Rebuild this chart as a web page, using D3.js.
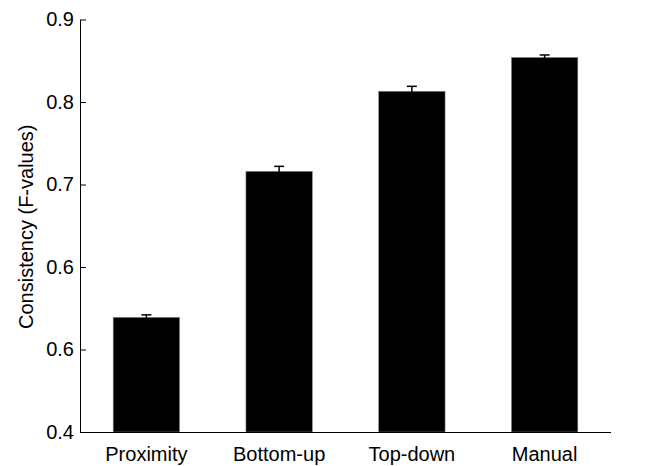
<!DOCTYPE html>
<head>
    <meta charset="utf-8">
    <style>
        body { margin: 0; background: #fff; }
        text { font-family: "Liberation Sans", Arial, sans-serif; fill: #000; }
        .axis path, .axis line { stroke: #000; stroke-width: 1; }
    </style>
</head>
<body>
    <div id="chart"></div>
    <script src="https://d3js.org/d3.v7.min.js"></script>
    <script>
        // values
        var categories = ["Proximity", "Bottom-up", "Top-down", "Manual"];
        var values = [0.539, 0.716, 0.813, 0.854];
        var errors = [0.003, 0.006, 0.006, 0.003];
        var yTicks = [0.4, 0.5, 0.6, 0.7, 0.8, 0.9];
        // labels as printed in the original (0.5 shows as "0.6")
        var yTickLabels = ["0.4", "0.6", "0.6", "0.7", "0.8", "0.9"];

        var width = 652, height = 466;
        var margin = {top: 19.5, right: 41, bottom: 34, left: 80};

        var svg = d3.select("#chart").append("svg")
            .attr("width", width)
            .attr("height", height);

        var x = d3.scaleBand()
            .domain(categories)
            .range([margin.left, width - margin.right])
            .paddingInner(0.5)
            .paddingOuter(0.25);

        var y = d3.scaleLinear()
            .domain([0.4, 0.9])
            .range([height - margin.bottom, margin.top]);

        var data = categories.map(function(c, i) {
            return {name: c, value: values[i], err: errors[i]};
        });

        // bars
        svg.selectAll(".bar")
            .data(data)
            .enter().append("rect")
            .attr("class", "bar")
            .attr("x", function(d) { return x(d.name); })
            .attr("y", function(d) { return y(d.value); })
            .attr("width", x.bandwidth())
            .attr("height", function(d) { return y(0.4) - y(d.value); })
            .attr("fill", "#000")
            .attr("stroke", "#888")
            .attr("stroke-width", 0.6);

        // error bars (upper half is the only visible part)
        var eb = svg.selectAll(".err")
            .data(data)
            .enter().append("g")
            .attr("class", "err")
            .attr("stroke", "#000")
            .attr("stroke-width", 1.5);

        eb.append("line")
            .attr("x1", function(d) { return x(d.name) + x.bandwidth() / 2; })
            .attr("x2", function(d) { return x(d.name) + x.bandwidth() / 2; })
            .attr("y1", function(d) { return y(d.value - d.err); })
            .attr("y2", function(d) { return y(d.value + d.err); });

        eb.append("line")
            .attr("x1", function(d) { return x(d.name) + x.bandwidth() / 2 - 5; })
            .attr("x2", function(d) { return x(d.name) + x.bandwidth() / 2 + 5; })
            .attr("y1", function(d) { return y(d.value + d.err); })
            .attr("y2", function(d) { return y(d.value + d.err); });

        // y axis, ticks pointing inward
        svg.append("g")
            .attr("class", "axis")
            .attr("transform", "translate(" + margin.left + ",0)")
            .call(d3.axisLeft(y)
                .tickValues(yTicks)
                .tickFormat(function(d, i) { return yTickLabels[i]; })
                .tickSizeInner(-6)
                .tickSizeOuter(0)
                .tickPadding(6))
            .selectAll("text")
            .style("font-size", "20px");

        // x axis, no ticks
        var xa = svg.append("g")
            .attr("class", "axis")
            .attr("transform", "translate(0," + (height - margin.bottom) + ")")
            .call(d3.axisBottom(x).tickSize(0).tickSizeOuter(0).tickPadding(15));
        xa.selectAll("text").style("font-size", "20px");
        xa.select(".domain").attr("d", "M" + margin.left + ",0.5H" + (width - margin.right));

        // y label
        svg.append("text")
            .attr("transform", "translate(33," + ((margin.top + height - margin.bottom) / 2 + 1) + ") rotate(-90)")
            .attr("text-anchor", "middle")
            .style("font-size", "20px")
            .text("Consistency (F-values)");
    </script>
</body>
